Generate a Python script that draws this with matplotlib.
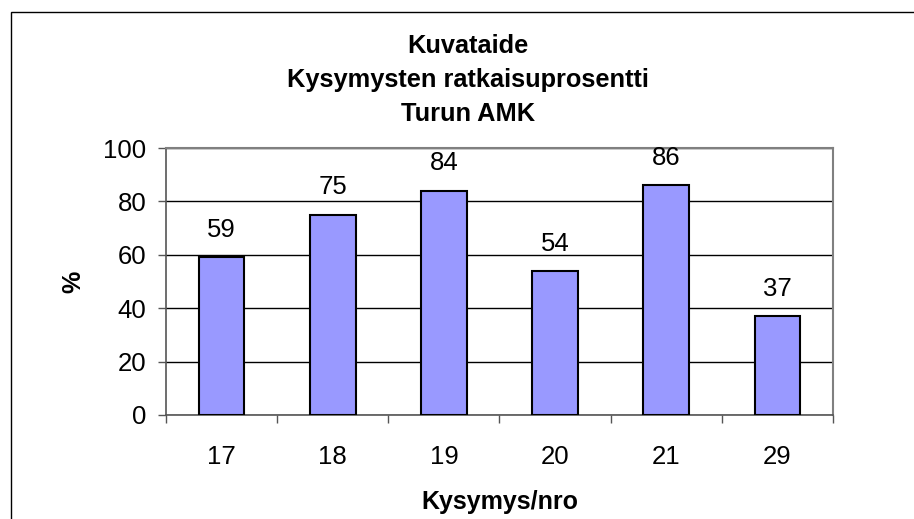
import matplotlib.pyplot as plt
import matplotlib.patches as patches
import numpy as np

plt.rcParams['font.family'] = ['Liberation Sans', 'DejaVu Sans']

kysymys = ["17", "18", "19", "20", "21", "29"]
prosentti = [59, 75, 84, 54, 86, 37]
otsikko = "Kuvataide\nKysymysten ratkaisuprosentti\nTurun AMK"

W, H = 914, 519
fig = plt.figure(figsize=(W / 100, H / 100), dpi=100)
ax = fig.add_axes([166 / W, 1 - 415 / H, (833 - 166) / W, (415 - 148) / H])

x = np.arange(len(kysymys))
ax.bar(x, prosentti, width=0.41, color="#9999ff", edgecolor="black", linewidth=1.5, zorder=3)
for xi, v in zip(x, prosentti):
    ax.annotate(str(v), (xi, v), xytext=(0, 11), textcoords="offset points",
                ha="center", va="bottom", fontsize=18.5)

ax.set_xlim(-0.5, len(kysymys) - 0.5)
ax.set_ylim(0, 100)
ax.set_yticks([0, 20, 40, 60, 80, 100])
ax.yaxis.grid(True, color="black", linewidth=1)
ax.set_axisbelow(True)
ax.set_xticks(x)
ax.set_xticklabels(kysymys)
ax.set_xticks(np.arange(-0.5, len(kysymys)), minor=True)
ax.tick_params(axis="x", which="major", length=0, labelsize=18.5, pad=21.5)
ax.tick_params(axis="x", which="minor", length=6, width=1, color="#555555")
ax.tick_params(axis="y", length=6, width=1, color="#555555", labelsize=18.5, pad=8)
for s in ["left", "bottom"]:
    ax.spines[s].set_color("#555555")
    ax.spines[s].set_linewidth(1.2)
for s in ["top", "right"]:
    ax.spines[s].set_color("#808080")
    ax.spines[s].set_linewidth(1.5)

ax.set_xlabel("Kysymys/nro", fontsize=18, fontweight="bold", labelpad=15.5)
ax.set_ylabel("%", fontsize=18, fontweight="bold", labelpad=13)
fig.text(468 / W, 1 - 80 / H, otsikko, ha="center", va="center",
         fontsize=18.3, fontweight="bold", linespacing=1.55)

# kehys
fig.patches.append(patches.Rectangle((11 / W, -0.1), 1.2, 1 - 12 / H + 0.1,
                                     transform=fig.transFigure, fill=False,
                                     edgecolor="black", linewidth=1))

fig.savefig("out.png", dpi=100)
